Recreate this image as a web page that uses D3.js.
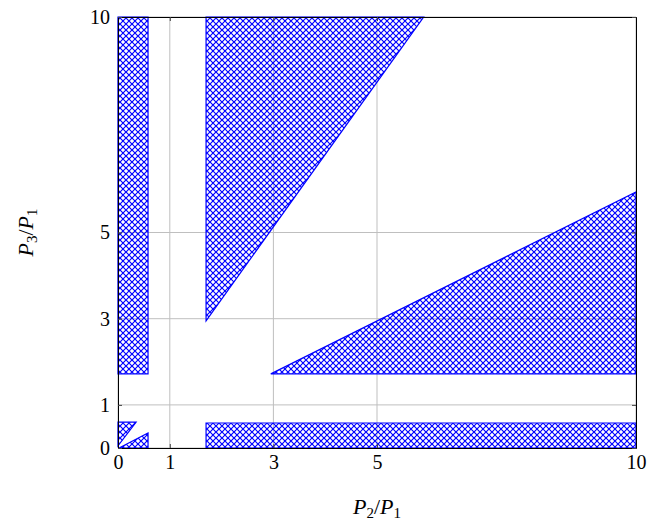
<!DOCTYPE html>
<html>
<head>
<meta charset="utf-8">
<script src="https://cdn.jsdelivr.net/npm/d3@7"></script>
<style>
  body { margin: 0; background: #fff; }
  text { font-family: "Liberation Serif", "DejaVu Serif", serif; }
</style>
</head>
<body>
<div id="chart"></div>
<script>
// tick values for both axes
const xTicks = [0, 1, 3, 5, 10];
const yTicks = [0, 1, 3, 5, 10];

// hatched regions, as [P2/P1, P3/P1] corners
const leftStrip = [[0, 1.72], [0.58, 1.72], [0.58, 10], [0, 10]];
const cornerUpper = [[0, 0.6], [0.35, 0.6], [0, 0.05]];
const cornerLower = [[0.02, 0], [0.58, 0.35], [0.58, 0]];
const bottomStrip = [[1.7, 0], [10, 0], [10, 0.58], [1.7, 0.58]];
const upperWedge = [[1.7, 2.95], [5.9, 10], [1.7, 10]];
const rightWedge = [[2.95, 1.72], [10, 5.94], [10, 1.72]];

const regions = [leftStrip, cornerUpper, cornerLower, bottomStrip, upperWedge, rightWedge];

const width = 649, height = 527;
const margin = {top: 17, right: 13, bottom: 79, left: 118};

const svg = d3.select('#chart')
              .append('svg')
              .attr('width', width)
              .attr('height', height);

// crosshatch pattern like pgfplots
const tile = 6;
const defs = svg.append('defs');
const pat = defs.append('pattern')
                .attr('id', 'xhatch')
                .attr('patternUnits', 'userSpaceOnUse')
                .attr('width', tile)
                .attr('height', tile);
pat.append('path')
   .attr('d', `M0,0 L${tile},${tile} M${tile},0 L0,${tile}`)
   .attr('stroke', 'blue')
   .attr('stroke-width', 1.2);

const x = d3.scaleLinear().domain([0, 10]).range([margin.left, width - margin.right]);
const y = d3.scaleLinear().domain([0, 10]).range([height - margin.bottom, margin.top]);

const g = svg.append('g');

// grid
g.selectAll('.gx').data(xTicks).enter().append('line')
 .attr('x1', d => x(d)).attr('x2', d => x(d))
 .attr('y1', y(0)).attr('y2', y(10))
 .attr('stroke', '#bfbfbf').attr('stroke-width', 1);
g.selectAll('.gy').data(yTicks).enter().append('line')
 .attr('y1', d => y(d)).attr('y2', d => y(d))
 .attr('x1', x(0)).attr('x2', x(10))
 .attr('stroke', '#bfbfbf').attr('stroke-width', 1);

// hatched areas
const line = d3.line().x(d => x(d[0])).y(d => y(d[1]));
g.selectAll('.region').data(regions).enter().append('path')
 .attr('class', 'region')
 .attr('d', d => line(d) + 'Z')
 .attr('fill', 'url(#xhatch)')
 .attr('stroke', 'blue')
 .attr('stroke-width', 1.2);

// axes, ticks inward on all sides
const axB = g.append('g').attr('transform', `translate(0,${y(0)})`)
  .call(d3.axisBottom(x).tickValues(xTicks).tickSizeInner(-4).tickSizeOuter(0).tickPadding(7));
const axT = g.append('g').attr('transform', `translate(0,${y(10)})`)
  .call(d3.axisTop(x).tickValues(xTicks).tickSizeInner(-4).tickSizeOuter(0).tickFormat(''));
const axL = g.append('g').attr('transform', `translate(${x(0)},0)`)
  .call(d3.axisLeft(y).tickValues(yTicks).tickSizeInner(-4).tickSizeOuter(0).tickPadding(8));
const axR = g.append('g').attr('transform', `translate(${x(10)},0)`)
  .call(d3.axisRight(y).tickValues(yTicks).tickSizeInner(-4).tickSizeOuter(0).tickFormat(''));

[axB, axT, axL, axR].forEach(a => {
  a.select('.domain').attr('stroke', '#000').attr('stroke-width', 1);
  a.selectAll('.tick line').attr('stroke', '#444');
  a.selectAll('text').attr('fill', '#000')
   .style('font-family', '"Liberation Serif", serif').style('font-size', '20px');
});

// axis titles
const xt = svg.append('text')
  .attr('x', (x(0) + x(10)) / 2).attr('y', 514)
  .attr('text-anchor', 'middle').style('font-size', '22px');
xt.append('tspan').attr('font-style', 'italic').text('P');
xt.append('tspan').attr('font-size', '15px').attr('dy', 4).text('2');
xt.append('tspan').attr('dy', -4).text('/');
xt.append('tspan').attr('font-style', 'italic').text('P');
xt.append('tspan').attr('font-size', '15px').attr('dy', 4).text('1');

const yt = svg.append('text')
  .attr('transform', `translate(33,${(y(0) + y(10)) / 2}) rotate(-90)`)
  .attr('text-anchor', 'middle').style('font-size', '22px');
yt.append('tspan').attr('font-style', 'italic').text('P');
yt.append('tspan').attr('font-size', '15px').attr('dy', 4).text('3');
yt.append('tspan').attr('dy', -4).text('/');
yt.append('tspan').attr('font-style', 'italic').text('P');
yt.append('tspan').attr('font-size', '15px').attr('dy', 4).text('1');
</script>
</body>
</html>
